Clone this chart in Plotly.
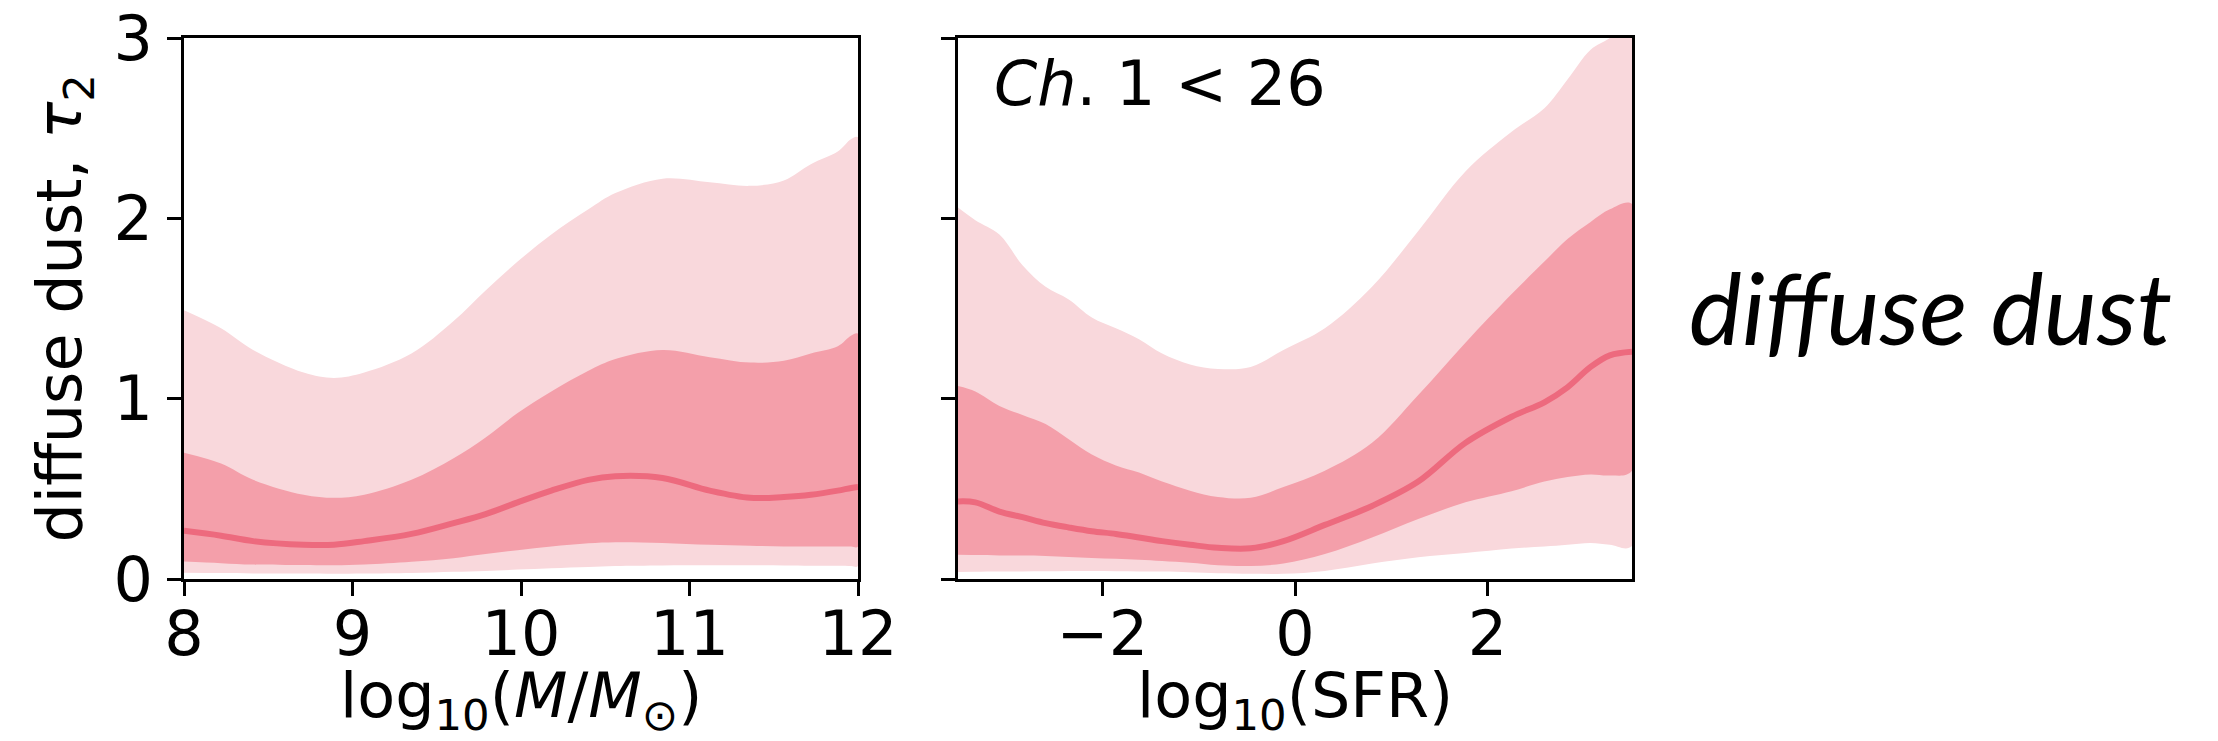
import plotly.graph_objects as go

# ---------------- data ----------------
mass_x = [8.0, 8.22, 8.41, 8.71, 8.89, 9.07, 9.35, 9.6, 9.79, 9.98, 10.18, 10.4,
          10.56, 10.84, 11.12, 11.36, 11.56, 11.72, 11.88, 11.96, 12.0]
mass_p975 = [1.49, 1.39, 1.27, 1.145, 1.115, 1.145, 1.25, 1.43, 1.60, 1.76, 1.91, 2.05,
             2.14, 2.22, 2.20, 2.18, 2.21, 2.30, 2.37, 2.44, 2.45]
mass_p84 = [0.70, 0.64, 0.55, 0.467, 0.45, 0.467, 0.55, 0.67, 0.785, 0.92, 1.04, 1.155,
            1.22, 1.27, 1.23, 1.20, 1.21, 1.25, 1.29, 1.35, 1.36]
mass_p50 = [0.267, 0.24, 0.21, 0.19, 0.19, 0.21, 0.25, 0.31, 0.36, 0.425, 0.49, 0.55,
            0.57, 0.56, 0.49, 0.45, 0.455, 0.467, 0.49, 0.505, 0.51]
mass_p16 = [0.097, 0.088, 0.08, 0.077, 0.076, 0.08, 0.095, 0.115, 0.138, 0.16, 0.18, 0.198,
            0.204, 0.2, 0.19, 0.185, 0.18, 0.18, 0.18, 0.18, 0.18]
mass_p025 = [0.035, 0.033, 0.031, 0.03, 0.029, 0.03, 0.033, 0.04, 0.045, 0.052, 0.06, 0.067,
             0.072, 0.075, 0.076, 0.076, 0.075, 0.074, 0.073, 0.072, 0.072]

sfr_x = [-3.5, -3.32, -3.07, -2.83, -2.59, -2.35, -2.11, -1.86, -1.62, -1.38, -1.09, -0.8,
         -0.46, -0.12, 0.31, 0.8, 1.28, 1.77, 2.25, 2.59, 2.83, 3.07, 3.27, 3.5]
sfr_p975 = [2.06, 1.99, 1.91, 1.74, 1.62, 1.55, 1.45, 1.39, 1.33, 1.25, 1.19, 1.165,
            1.175, 1.27, 1.39, 1.62, 1.93, 2.26, 2.48, 2.61, 2.77, 2.935, 3.0, 3.1]
sfr_p84 = [1.07, 1.04, 0.96, 0.91, 0.86, 0.775, 0.69, 0.63, 0.59, 0.54, 0.49, 0.455,
           0.45, 0.51, 0.60, 0.755, 1.02, 1.31, 1.58, 1.76, 1.885, 1.98, 2.05, 2.08]
sfr_p50 = [0.43, 0.425, 0.374, 0.343, 0.31, 0.286, 0.265, 0.25, 0.23, 0.21, 0.19, 0.173,
           0.17, 0.21, 0.30, 0.405, 0.54, 0.755, 0.90, 0.98, 1.063, 1.176, 1.24, 1.26]
sfr_p16 = [0.134, 0.133, 0.131, 0.13, 0.128, 0.122, 0.117, 0.112, 0.107, 0.1, 0.09, 0.076,
           0.072, 0.086, 0.138, 0.23, 0.333, 0.425, 0.487, 0.54, 0.566, 0.58, 0.574, 0.60]
sfr_p025 = [0.039, 0.04, 0.041, 0.042, 0.043, 0.045, 0.044, 0.043, 0.042, 0.041, 0.037, 0.032,
            0.029, 0.029, 0.045, 0.086, 0.121, 0.144, 0.169, 0.18, 0.19, 0.20, 0.19, 0.183]

mass_ticks = [8, 9, 10, 11, 12]
sfr_ticks = [-2, 0, 2]
y_ticks = [0, 1, 2, 3]

mass_title = "log<sub>10</sub>(<i>M</i>/<i>M</i><sub>⊙</sub>)"
sfr_title = "log<sub>10</sub>(SFR)"
y_title = "diffuse dust, <i>τ</i><sub>2</sub>"
panel_label = "<i>Ch</i>. 1 &lt; 26"
row_label = "<i>diffuse dust</i>"

# ---------------- style ----------------
W, H = 2218, 741
OUTER = "rgb(249,216,220)"
INNER = "rgb(244,159,170)"
LINE = "rgb(237,106,126)"
FONT = "DejaVu Sans"
FS = 62

fig = go.Figure()


def band(x, lo, hi, color, xa, ya):
    fig.add_trace(go.Scatter(
        x=list(x) + list(x)[::-1], y=list(lo) + list(hi)[::-1],
        fill="toself", fillcolor=color, line=dict(width=0, shape="spline"),
        mode="lines", hoverinfo="skip", showlegend=False, xaxis=xa, yaxis=ya))


for xs, p025, p16, p50, p84, p975, xa, ya in [
    (mass_x, mass_p025, mass_p16, mass_p50, mass_p84, mass_p975, "x", "y"),
    (sfr_x, sfr_p025, sfr_p16, sfr_p50, sfr_p84, sfr_p975, "x2", "y2"),
]:
    band(xs, p025, p975, OUTER, xa, ya)
    band(xs, p16, p84, INNER, xa, ya)
    fig.add_trace(go.Scatter(x=xs, y=p50, mode="lines",
                             line=dict(color=LINE, width=6, shape="spline"),
                             showlegend=False, xaxis=xa, yaxis=ya))

x0, x1 = 184 / W, 858 / W
x2, x3 = 958 / W, 1632 / W
ytop, ybot = 1 - 38 / H, 1 - 579 / H

axis_common = dict(showline=True, linecolor="black", linewidth=2.5, mirror=True,
                   ticks="outside", ticklen=14, tickwidth=2.5, tickcolor="black",
                   showgrid=False, zeroline=False, automargin=False,
                   tickfont=dict(family=FONT, size=FS, color="black"))

fig.update_layout(
    width=W, height=H,
    margin=dict(l=0, r=0, t=0, b=0),
    paper_bgcolor="white", plot_bgcolor="white",
    font=dict(family=FONT, size=FS, color="black"),
    xaxis=dict(domain=[x0, x1], range=[8, 12], tickvals=mass_ticks, anchor="y",
               ticklabelstandoff=-15, **axis_common),
    yaxis=dict(domain=[ybot, ytop], range=[0, 3], tickvals=y_ticks, anchor="x",
               ticklabelstandoff=2, **axis_common),
    xaxis2=dict(domain=[x2, x3], range=[-3.5, 3.5], tickvals=sfr_ticks, anchor="y2",
                ticklabelstandoff=-15, **axis_common),
    yaxis2=dict(domain=[ybot, ytop], range=[0, 3], tickvals=y_ticks, anchor="x2",
                showticklabels=False, **axis_common),
)

ann_font = dict(family=FONT, size=FS, color="black")
fig.add_annotation(xref="paper", yref="paper", x=(x0 + x1) / 2, y=1 - 699 / H,
                   xanchor="center", yanchor="middle", showarrow=False,
                   text=mass_title, font=ann_font)
fig.add_annotation(xref="paper", yref="paper", x=(x2 + x3) / 2, y=1 - 699 / H,
                   xanchor="center", yanchor="middle", showarrow=False,
                   text=sfr_title, font=ann_font)
fig.add_annotation(xref="paper", yref="paper", x=63 / W, y=(ybot + ytop) / 2,
                   xanchor="center", yanchor="middle", showarrow=False,
                   textangle=-90, text=y_title, font=ann_font)

fig.add_annotation(xref="paper", yref="paper", x=992 / W, y=1 - 84 / H,
                   xanchor="left", yanchor="middle", showarrow=False,
                   text=panel_label, font=ann_font)

fig.add_annotation(xref="paper", yref="paper", x=1930 / W, y=1 - 306 / H,
                   xanchor="center", yanchor="middle", showarrow=False,
                   text=row_label,
                   font=dict(family="Lato", size=100, color="black"))

fig.write_html("out.html", config={"displayModeBar": False},
               post_script="document.body.style.margin='0';")
